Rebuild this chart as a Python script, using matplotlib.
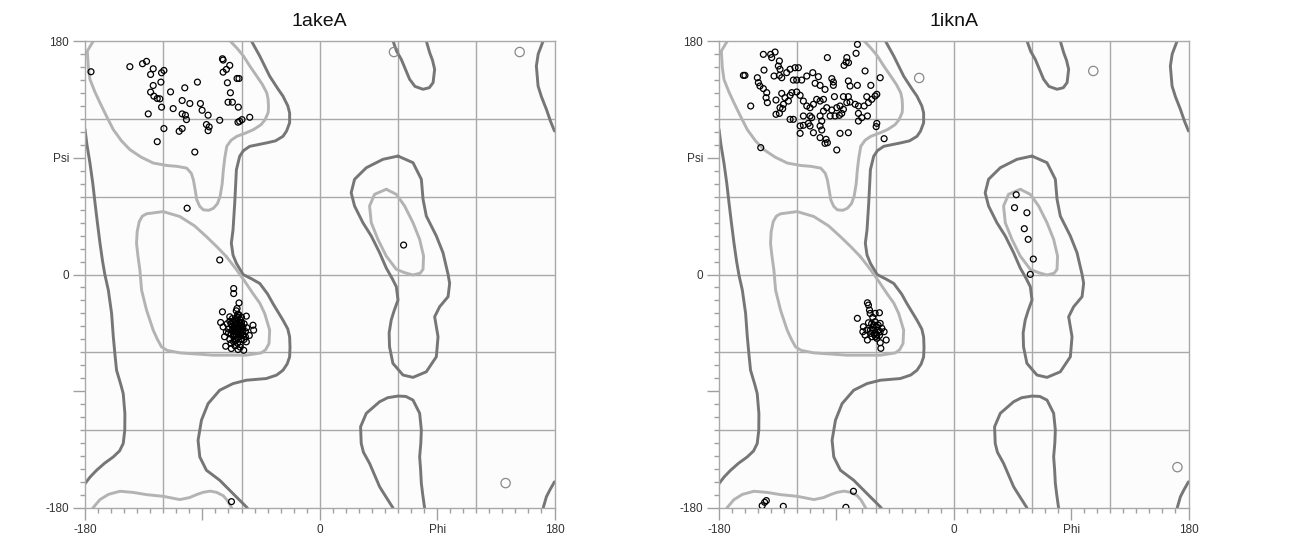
import matplotlib
matplotlib.use("Agg")
import matplotlib.pyplot as plt
import numpy as np

plt.rcParams['font.family'] = ['Liberation Sans', 'DejaVu Sans']

TITLES = ["1akeA", "1iknA"]

# contour lines of the background (phi, psi)
ALLOWED_MAIN_RIGHT = [(-52.4, 180), (-46, 168.4), (-38.4, 152.9), (-32, 143), (-28.2, 137.5), (-24.5, 130),
                      (-23.1, 124.6), (-23.1, 116.9), (-25.5, 110.5), (-28.2, 106.5), (-34, 103), (-41, 101.4),
                      (-53.7, 98.8), (-58.5, 95.5), (-61.4, 91.1), (-63.9, 80.8), (-65.2, 55), (-66.5, 34.4),
                      (-67.8, 24.1), (-66.5, 15), (-63.9, 8.6), (-58.8, 0), (-52, -3.5), (-46, -6.9), (-40, -15),
                      (-35.9, -22.4), (-28.2, -35.2), (-24.5, -42), (-23.1, -48.1), (-22.8, -56), (-23.1, -63.5),
                      (-25, -69), (-28.2, -73.8), (-33, -77.5), (-41, -80.2), (-56.3, -81.5), (-66.5, -84.1),
                      (-76.7, -89.2), (-85.6, -99.5), (-90.7, -112.3), (-93.3, -127.8), (-92, -140.6),
                      (-86.9, -150.9), (-76.7, -158.6), (-66.5, -168.9), (-58.8, -176.6), (-55.5, -180)]
ALLOWED_MAIN_LEFT = [(-180, 112), (-178.5, 100), (-176.2, 85.9), (-174, 70), (-172.3, 55), (-170.5, 40),
                     (-168.5, 24.1), (-166.5, 10), (-164.7, -0.4), (-162.1, -12.1), (-159.6, -30), (-158.3, -48),
                     (-157, -62), (-155.8, -73.8), (-152.5, -85), (-150.7, -91.8), (-149.4, -107.2),
                     (-149.5, -120), (-150.7, -130.3), (-153.5, -136), (-158.3, -140.6), (-165, -145.5),
                     (-171.1, -150.9), (-176, -156), (-180, -161.2)]
ALLOWED_EDGE_TOP = [(171.3, 180), (167.5, 170), (166.1, 160.7), (167.4, 145.3), (170, 137), (173.8, 127.3),
                    (177, 118), (180, 110.6)]
ALLOWED_EDGE_BOTTOM = [(180, -159.8), (176.5, -166), (173.8, -171.3), (171.3, -180)]
ALLOWED_ALPHA_L = [(60, 91.3), (48.5, 88.8), (35.7, 82.3), (26.7, 73.4), (24.1, 63), (26.7, 52.8), (33.1, 39.9),
                   (39.5, 29.7), (45.9, 16.8), (51, 5), (55.5, -3), (58.7, -9.4), (60, -19.7), (57, -28),
                   (54.8, -35.1), (53.2, -45), (53.5, -55.7), (56.1, -68.5), (63.8, -77.5), (71.5, -79.3),
                   (81.7, -75), (89.4, -63.4), (90.7, -48), (88.1, -32.6), (91.9, -24.9), (98.4, -17.1),
                   (99.6, -6.8), (98.4, 0.1), (94.5, 16.8), (89.4, 29.7), (81.7, 45.1), (79.2, 58), (77.9, 73.4),
                   (71.5, 86.2), (60, 91.3)]
ALLOWED_TOP_LOOP = [(56.2, 180), (59, 172), (62.5, 165.9), (68.9, 150.5), (73, 145), (79.2, 142.8), (84, 144),
                    (86.9, 147.9), (88.1, 158.2), (86.5, 165), (84.3, 171), (81.7, 180)]
ALLOWED_BOTTOM_LOOP = [(56.2, -180), (50.5, -171), (45.9, -163.6), (38.2, -145.6), (33.5, -137), (31.8, -130.2),
                       (31.3, -117.4), (35.7, -107), (45.9, -98.1), (52, -95), (60, -93.7), (66, -94),
                       (71.5, -96.8), (76.6, -107), (77.9, -119.9), (77.5, -130), (76.6, -140.5), (77.3, -150),
                       (77.9, -161), (79, -170), (80.4, -180)]
FAVORED_BETA = [(-173.6, 180), (-178.2, 172.3), (-177.5, 160), (-176.2, 150.4), (-172.5, 141), (-168.5, 132.3),
                (-163, 121), (-158.3, 111.7), (-152, 103), (-145.5, 96.2), (-137, 90.5), (-127.6, 85.9),
                (-117, 84), (-109.7, 83.4), (-102, 82), (-98.5, 78), (-96.9, 73), (-95.5, 65), (-94.3, 57.6),
                (-92, 52.5), (-89.2, 49.8), (-85, 49.5), (-81.5, 51.1), (-78.5, 54.5), (-76.4, 60.2), (-74.8, 70),
                (-73.9, 80.8), (-72.8, 90), (-71.3, 98.8), (-68, 103.5), (-63.6, 106.5), (-57, 109),
                (-50.8, 111.7), (-45, 115.5), (-41.9, 119.4), (-39.5, 125), (-39.3, 129.7), (-39.6, 135),
                (-40.6, 140), (-44, 146.5), (-48.3, 152.9), (-53.5, 160.5), (-58.5, 168.4), (-63.5, 174.5),
                (-68.7, 180)]
FAVORED_BETA_BOTTOM = [(-174, -180), (-168.5, -173.5), (-162, -169.5), (-153.2, -167.1), (-143, -168),
                       (-132.8, -169.7), (-120, -171), (-107.3, -173.5), (-100, -172), (-94, -169.5),
                       (-89.4, -167.9), (-84, -167), (-79.2, -167.9), (-74, -170.5), (-71, -174), (-67.5, -180)]
FAVORED_ALPHA_R = [(-71.6, 13.8), (-64, 4), (-57, -6), (-51.2, -14.7), (-46, -22), (-42.2, -30.1), (-38.4, -42.9),
                   (-38.9, -53.2), (-41.5, -58), (-44.8, -60.4), (-56.3, -62.2), (-81.8, -62.2), (-107.3, -60.4),
                   (-117, -58.5), (-121.3, -55.8), (-124.5, -50), (-127.7, -42.9), (-132.8, -27.5),
                   (-136.6, -12.1), (-137.9, 3.3), (-139.5, 15), (-140.5, 24.1), (-140, 33), (-138.4, 40.8),
                   (-136, 45), (-132.8, 46.8), (-120.1, 48.5), (-107.3, 44.7), (-96, 37.5), (-86.9, 29.2),
                   (-79, 21.5), (-71.6, 13.8)]
FAVORED_ALPHA_L = [(51, 65.7), (42, 61.8), (38.2, 52.8), (39.5, 39.9), (44.6, 27.1), (51, 14.2), (58.7, 4),
                   (65.1, 1.4), (71.5, -0.4), (77, 1), (79.2, 4), (79.6, 14.2), (76.6, 27.1), (71.5, 39.9),
                   (65.1, 52.8), (58.7, 61.8), (51, 65.7)]

ALLOWED_LINES = [ALLOWED_MAIN_RIGHT, ALLOWED_MAIN_LEFT, ALLOWED_EDGE_TOP, ALLOWED_EDGE_BOTTOM,
                 ALLOWED_ALPHA_L, ALLOWED_TOP_LOOP, ALLOWED_BOTTOM_LOOP]
FAVORED_LINES = [FAVORED_BETA, FAVORED_BETA_BOTTOM, FAVORED_ALPHA_R, FAVORED_ALPHA_L]

# residues of 1akeA (phi, psi)
AKE_BETA = [(-175.4, 156.3), (-145.6, 160.2), (-135.9, 162.5), (-132.8, 164.3), (-127.7, 158.6), (-129.7, 154.2),
            (-121.3, 155.5), (-119.5, 157.3), (-121.8, 148.3), (-127.7, 145.7), (-129.7, 140.6), (-127.2, 137.5),
            (-124.6, 135.7), (-122.6, 135.4), (-121.3, 129), (-131.5, 123.8), (-114.4, 140.8), (-103.5, 143.9),
            (-93.8, 148.3), (-105.5, 134.1), (-99.6, 131.8), (-112.4, 127.9), (-105.5, 123.8), (-103, 122.8),
            (-102.2, 119.4), (-91.5, 131.8), (-90.2, 126.6), (-85.6, 122.8), (-119.5, 112.5), (-105.5, 112.5),
            (-107.8, 110.4), (-124.6, 102.4), (-95.8, 94.4), (-86.9, 115.6), (-84.8, 113.8), (-85.6, 110.9),
            (-76.7, 118.9), (-74.6, 166.3), (-74.1, 165.3), (-69, 161.2), (-71.6, 158.1), (-74.1, 156),
            (-63.4, 151.1), (-61.9, 151.1), (-70.8, 147.8), (-68.5, 140.1), (-70.3, 132.8), (-67, 132.8),
            (-62.4, 129), (-62.7, 117.4), (-61.4, 118.1), (-59.6, 119.4), (-53.7, 121.2), (-101.7, 51.1),
            (-76.7, 11.2), (-67.7, -175.1), (64.3, 22.7)]
AKE_ALPHA = [(-66, -10.8), (-66, -14.7), (-61.9, -21.9), (-63.4, -26.2), (-74.6, -28.8), (-69, -32.6),
             (-56.3, -32.1), (-51.2, -39.1), (-50.7, -42.9), (-74.1, -40.4), (-71.6, -44.2), (-72.1, -55.3),
             (-67.8, -57.1), (-62.7, -57.8), (-58.3, -58.4), (-56.3, -51.9), (-66, -51.9), (-76, -37), (-73, -48),
             (-54, -47), (-64, -42), (-62, -40), (-66, -44), (-60, -45), (-63, -38), (-65, -36), (-61, -35),
             (-67, -40), (-68, -46), (-62, -48), (-64, -50), (-59, -41), (-58, -38), (-66, -48), (-63, -45),
             (-61, -43), (-65, -39), (-60, -50), (-67, -43), (-64, -34), (-62, -31), (-59, -47), (-65, -47),
             (-63, -41), (-61, -39), (-66, -41), (-62, -44), (-64, -46), (-60, -42), (-68, -38), (-57, -44),
             (-63, -53), (-65, -55), (-61, -54), (-69, -50), (-58, -50), (-66, -37), (-62, -37), (-64, -39),
             (-60, -37), (-67, -34), (-63, -33), (-61, -46), (-65, -43), (-63, -49), (-70, -42), (-59, -44),
             (-64, -44), (-62, -42), (-66, -46), (-60, -39), (-65, -51), (-68, -53), (-61, -56), (-64, -28),
             (-63, -31), (-60, -33), (-70, -45), (-71, -38), (-56, -41), (-57, -48), (-69, -36)]
AKE_GLY = [(56.9, 171.5), (153.3, 171.5), (142.5, -160.8)]

# residues of 1iknA (phi, psi)
IKN_BETA = [(-73.85, 177.4), (-74.9, 170.5), (-146.0, 169.7), (-140.4, 169.7), (-137.0, 171.5), (-96.9, 167.2),
            (-82.0, 167.2), (-82.5, 163.8), (-84.1, 161.2), (-80.7, 163.3), (-133.7, 164.6), (-139.6, 167.2),
            (-134.5, 160.7), (-133.2, 158.2), (-145.5, 157.6), (-125.5, 158.2), (-121.7, 159.4), (-119.1, 159.4),
            (-161.3, 153.5), (-160.1, 153.5), (-137.8, 153.0), (-133.7, 153.5), (-131.9, 151.7), (-128.1, 155.6),
            (-150.6, 151.7), (-149.8, 147.9), (-148.6, 145.3), (-146.0, 143.3), (-143.4, 140.2), (-143.9, 136.3),
            (-142.9, 132.5), (-155.7, 129.9), (-136.3, 134.5), (-131.9, 139.6), (-129.4, 136.3), (-125.5, 138.1),
            (-124.2, 140.2), (-126.8, 133.7), (-130.6, 131.2), (-133.2, 128.6), (-136.3, 123.5), (-133.7, 124.2),
            (-131.2, 127.8), (-123.0, 149.9), (-120.4, 149.9), (-116.6, 149.9), (-112.7, 153.0), (-108.1, 155.6),
            (-103.8, 152.5), (-106.3, 147.4), (-102.5, 145.8), (-98.7, 142.7), (-93.5, 151.0), (-92.3, 148.4),
            (-92.3, 145.8), (-80.8, 149.2), (-79.5, 145.3), (-73.9, 145.8), (-63.6, 145.8), (-56.4, 151.7),
            (-68.0, 156.9), (-120.4, 140.7), (-117.8, 138.1), (-115.3, 133.7), (-112.7, 129.9), (-110.2, 128.6),
            (-107.6, 131.2), (-105.1, 135.0), (-102.5, 133.7), (-99.9, 135.0), (-97.4, 128.6), (-93.5, 126.8),
            (-91.5, 137.1), (-84.6, 137.1), (-80.8, 137.1), (-79.5, 133.0), (-75.6, 131.2), (-73.1, 129.9),
            (-68.7, 129.9), (-65.4, 132.5), (-62.9, 135.0), (-66.7, 137.1), (-59.0, 138.9), (-60.3, 137.6),
            (-89.7, 128.6), (-87.2, 129.9), (-84.6, 127.3), (-82.0, 132.5), (-99.9, 126.0), (-102.5, 122.2),
            (-110.2, 122.2), (-108.9, 120.9), (-115.3, 122.2), (-125.5, 119.6), (-123.0, 119.6), (-117.8, 114.5),
            (-111.5, 116.5), (-110.2, 114.5), (-115.3, 115.0), (-101.2, 118.3), (-94.8, 122.2), (-91.0, 122.2),
            (-87.7, 122.7), (-85.9, 124.2), (-102.5, 114.5), (-101.2, 111.4), (-117.8, 108.8), (-107.6, 109.3),
            (-102.5, 105.5), (-97.9, 104.2), (-96.9, 101.6), (-98.7, 101.1), (-87.2, 108.8), (-80.8, 109.3),
            (-73.1, 124.2), (-70.5, 120.9), (-66.2, 122.2), (-73.1, 118.3), (-59.0, 116.5), (-59.5, 114.0),
            (-53.4, 104.7), (-89.7, 96.0), (-148.0, 97.8),
            (47.9, 61.5), (46.6, 51.5), (56.1, 47.6), (54.1, 35.3), (57.1, 27.1), (61.0, 11.9), (58.7, 0.1),
            (-146.9, -178.2), (-145.0, -175.6), (-143.7, -174.3), (-130.7, -178.7), (-82.7, -179.5),
            (-76.9, -167.1)]
IKN_ALPHA = [(-66.2, -21.8), (-65.4, -23.6), (-64.6, -27.4), (-73.9, -33.8), (-64.1, -30), (-60.3, -30),
             (-57, -29.5), (-62.1, -33), (-65.4, -37.2), (-56.4, -37.7), (-55.1, -41.5), (-59, -40.3),
             (-61.6, -42.8), (-69.3, -40.3), (-69.7, -44.1), (-68, -46.7), (-66.2, -50.5), (-62.8, -48),
             (-59, -46.7), (-56.4, -44.1), (-53.4, -44.1), (-51.8, -50.5), (-56.4, -52.6), (-59, -49.2),
             (-55.9, -56.9), (-63.6, -45.4), (-60.3, -36.4), (-66.6, -42.8), (-61, -39), (-58, -43), (-60, -45),
             (-62, -41), (-57, -47), (-63, -38), (-60, -48), (-58, -39), (-64, -43), (-61, -46)]
IKN_GLY = [(-26.5, 151.5), (107.0, 156.9), (171.5, -148.5)]

PANELS = [(AKE_BETA + AKE_ALPHA, AKE_GLY), (IKN_BETA + IKN_ALPHA, IKN_GLY)]

fig = plt.figure(figsize=(12.92, 5.42), dpi=100)
fig.patch.set_facecolor("white")
axes_pos = [[85 / 1292, 34 / 542, 469.5 / 1292, 467 / 542],
            [719 / 1292, 34 / 542, 469.5 / 1292, 467 / 542]]

for pos, title, (res, gly) in zip(axes_pos, TITLES, PANELS):
    ax = fig.add_axes(pos)
    ax.set_facecolor("#fcfcfc")
    ax.set_xlim(-180, 180)
    ax.set_ylim(-180, 180)

    # grid
    for v in [-120, -60, 0, 60, 120]:
        ax.axvline(v, color="#a9a9a9", lw=1.0, zorder=1)
        ax.axhline(v, color="#a9a9a9", lw=1.0, zorder=1)
    for s in ax.spines.values():
        s.set_color("#a9a9a9")
        s.set_linewidth(1.0)

    # contours
    for line in ALLOWED_LINES:
        xy = np.array(line)
        ax.plot(xy[:, 0], xy[:, 1], color="#767676", lw=2.1, solid_joinstyle="round",
                solid_capstyle="round", zorder=2)
    for line in FAVORED_LINES:
        xy = np.array(line)
        ax.plot(xy[:, 0], xy[:, 1], color="#b3b3b3", lw=2.1, solid_joinstyle="round",
                solid_capstyle="round", zorder=2)

    # residues
    r = np.array(res)
    ax.scatter(r[:, 0], r[:, 1], s=18, facecolors="none", edgecolors="black", linewidths=0.9, zorder=4)
    g = np.array(gly)
    ax.scatter(g[:, 0], g[:, 1], s=45, facecolors="none", edgecolors="#8a8a8a", linewidths=0.9, zorder=4)

    # ticks
    ax.set_xticks([-180, -90, 0, 90, 180])
    ax.set_xticklabels(["-180", "", "0", "Phi", "180"])
    ax.set_yticks([-180, -90, 0, 90, 180])
    ax.set_yticklabels(["-180", "", "0", "Psi", "180"])
    ax.set_xticks(np.arange(-180, 181, 10), minor=True)
    ax.set_yticks(np.arange(-180, 181, 10), minor=True)
    ax.tick_params(which="major", length=8.5, width=1.0, color="#a0a0a0", labelsize=8.5,
                   labelcolor="#333333", pad=3)
    ax.tick_params(which="minor", length=3.5, width=1.0, color="#a0a0a0")
    ax.tick_params(top=False, right=False)

    ax.set_title(title, fontsize=14, pad=11, color="#111111")

fig.savefig("out.png", dpi=100, facecolor="white")
